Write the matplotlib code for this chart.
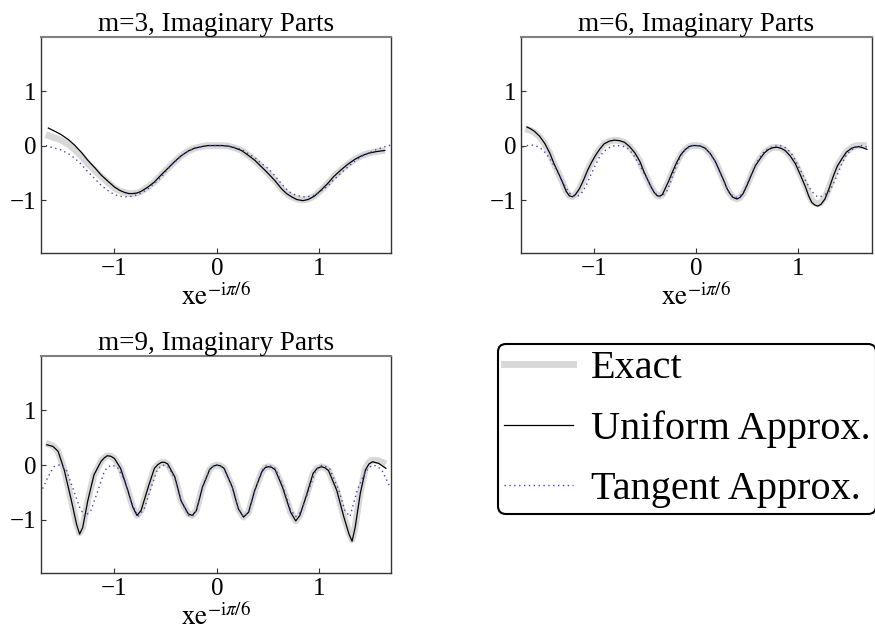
import matplotlib.pyplot as plt
from matplotlib.lines import Line2D

plt.rcParams['font.family'] = ['Liberation Serif', 'DejaVu Serif']
plt.rcParams['mathtext.fontset'] = 'stix'

# m=3
x3_unif = [-1.645, -1.58, -1.52, -1.45, -1.39, -1.32, -1.26, -1.19, -1.13, -1.06, -1.00, -0.95, -0.90, -0.86,
           -0.82, -0.78, -0.74, -0.68, -0.61, -0.55, -0.48, -0.41, -0.35, -0.28, -0.22, -0.15, -0.09, -0.04, 0.0,
           0.05, 0.11, 0.17, 0.24, 0.30, 0.37, 0.43, 0.50, 0.57, 0.63, 0.68, 0.73, 0.78, 0.84, 0.89, 0.95, 1.01,
           1.08, 1.14, 1.21, 1.28, 1.35, 1.41, 1.48, 1.56, 1.64]
y3_unif = [0.32, 0.26, 0.20, 0.11, 0.01, -0.13, -0.27, -0.41, -0.54, -0.66, -0.76, -0.82, -0.86, -0.88,
           -0.88, -0.87, -0.84, -0.77, -0.67, -0.55, -0.42, -0.29, -0.19, -0.10, -0.05, -0.02, 0.0, 0.0, 0.0,
           0.0, -0.01, -0.04, -0.09, -0.17, -0.27, -0.38, -0.51, -0.65, -0.79, -0.88, -0.94, -0.99, -1.01, -0.99,
           -0.93, -0.83, -0.70, -0.57, -0.45, -0.34, -0.25, -0.19, -0.14, -0.11, -0.09]
x3_exact = [-1.67, -1.58, -1.52, -1.45, -1.39, -1.32, -1.26, -1.19, -1.13, -1.06, -1.00, -0.95, -0.90, -0.86,
            -0.82, -0.78, -0.74, -0.68, -0.61, -0.55, -0.48, -0.41, -0.35, -0.28, -0.22, -0.15, -0.09, -0.04, 0.0,
            0.05, 0.11, 0.17, 0.24, 0.30, 0.37, 0.43, 0.50, 0.57, 0.63, 0.68, 0.73, 0.78, 0.84, 0.89, 0.95, 1.01,
            1.08, 1.14, 1.21, 1.28, 1.35, 1.41, 1.48, 1.56, 1.64]
y3_exact = [0.20, 0.14, 0.10, 0.02, -0.07, -0.20, -0.33, -0.46, -0.57, -0.68, -0.78, -0.83, -0.86, -0.88,
            -0.88, -0.87, -0.84, -0.77, -0.67, -0.55, -0.42, -0.29, -0.19, -0.10, -0.05, -0.02, 0.0, 0.0, 0.0,
            0.0, -0.01, -0.04, -0.09, -0.17, -0.27, -0.38, -0.51, -0.65, -0.79, -0.88, -0.94, -0.98, -1.00, -0.98,
            -0.93, -0.83, -0.70, -0.57, -0.45, -0.34, -0.25, -0.19, -0.14, -0.11, -0.09]
x3_tang = [-1.67, -1.60, -1.52, -1.45, -1.39, -1.32, -1.26, -1.19, -1.13, -1.06, -1.00, -0.95, -0.89, -0.83,
           -0.77, -0.72, -0.67, -0.61, -0.54, -0.48, -0.41, -0.35, -0.28, -0.22, -0.15, -0.09, -0.04, 0.0, 0.05,
           0.11, 0.17, 0.24, 0.30, 0.37, 0.43, 0.50, 0.57, 0.63, 0.68, 0.73, 0.79, 0.86, 0.92, 0.97, 1.02, 1.08,
           1.14, 1.21, 1.28, 1.35, 1.41, 1.48, 1.55, 1.61, 1.70]
y3_tang = [0.0, -0.04, -0.08, -0.15, -0.23, -0.35, -0.48, -0.61, -0.73, -0.83, -0.90, -0.93, -0.94, -0.93,
           -0.90, -0.85, -0.79, -0.69, -0.57, -0.43, -0.30, -0.19, -0.10, -0.05, -0.02, 0.0, 0.0, 0.0, 0.0,
           -0.01, -0.03, -0.07, -0.14, -0.22, -0.32, -0.42, -0.56, -0.70, -0.80, -0.88, -0.92, -0.94, -0.93, -0.90,
           -0.83, -0.75, -0.63, -0.51, -0.39, -0.28, -0.20, -0.14, -0.08, -0.04, 0.01]

# m=6
x6_unif = [-1.654, -1.62, -1.58, -1.53, -1.48, -1.43, -1.39, -1.34, -1.30, -1.27, -1.24, -1.21, -1.18, -1.14,
           -1.10, -1.06, -1.02, -0.98, -0.94, -0.90, -0.85, -0.80, -0.75, -0.70, -0.65, -0.60, -0.55, -0.51, -0.47,
           -0.44, -0.41, -0.38, -0.36, -0.33, -0.31, -0.27, -0.23, -0.19, -0.15, -0.11, -0.07, -0.035, 0.0, 0.045,
           0.09, 0.14, 0.19, 0.23, 0.27, 0.30, 0.33, 0.36, 0.40, 0.43, 0.46, 0.50, 0.54, 0.58, 0.63, 0.67, 0.71,
           0.75, 0.79, 0.83, 0.87, 0.92, 0.97, 1.02, 1.07, 1.10, 1.13, 1.16, 1.19, 1.22, 1.26, 1.30, 1.34, 1.38,
           1.43, 1.47, 1.52, 1.55, 1.59, 1.63, 1.67]
y6_unif = [0.34, 0.31, 0.26, 0.17, 0.04, -0.14, -0.33, -0.53, -0.70, -0.84, -0.92, -0.94, -0.90, -0.79,
           -0.63, -0.45, -0.30, -0.17, -0.06, 0.03, 0.08, 0.10, 0.09, 0.06, -0.02, -0.13, -0.29, -0.48, -0.64,
           -0.76, -0.86, -0.92, -0.93, -0.90, -0.82, -0.66, -0.48, -0.31, -0.17, -0.08, -0.02, 0.0, 0.0, -0.01,
           -0.05, -0.15, -0.30, -0.47, -0.64, -0.78, -0.88, -0.95, -0.98, -0.95, -0.88, -0.72, -0.54, -0.37, -0.23,
           -0.13, -0.07, -0.04, -0.03, -0.05, -0.09, -0.19, -0.33, -0.54, -0.76, -0.92, -1.04, -1.09, -1.11, -1.08,
           -0.98, -0.79, -0.57, -0.38, -0.23, -0.12, -0.05, -0.03, -0.02, -0.04, -0.07]
x6_exact = [-1.67, -1.62, -1.58, -1.53, -1.48, -1.43, -1.39, -1.34, -1.30, -1.27, -1.24, -1.21, -1.18, -1.14,
            -1.10, -1.06, -1.02, -0.98, -0.94, -0.90, -0.85, -0.80, -0.75, -0.70, -0.65, -0.60, -0.55, -0.51, -0.47,
            -0.44, -0.41, -0.38, -0.36, -0.33, -0.31, -0.27, -0.23, -0.19, -0.15, -0.11, -0.07, -0.035, 0.0, 0.045,
            0.09, 0.14, 0.19, 0.23, 0.27, 0.30, 0.33, 0.36, 0.40, 0.43, 0.46, 0.50, 0.54, 0.58, 0.63, 0.67, 0.71,
            0.75, 0.79, 0.83, 0.87, 0.92, 0.97, 1.02, 1.07, 1.10, 1.13, 1.16, 1.19, 1.22, 1.26, 1.30, 1.34, 1.38,
            1.43, 1.47, 1.52, 1.55, 1.59, 1.63, 1.67]
y6_exact = [0.30, 0.28, 0.24, 0.16, 0.03, -0.14, -0.33, -0.53, -0.70, -0.84, -0.92, -0.94, -0.90, -0.79,
            -0.63, -0.45, -0.30, -0.17, -0.06, 0.03, 0.08, 0.10, 0.09, 0.06, -0.02, -0.13, -0.29, -0.48, -0.64,
            -0.76, -0.86, -0.92, -0.93, -0.90, -0.82, -0.66, -0.48, -0.31, -0.17, -0.08, -0.02, 0.0, 0.0, -0.01,
            -0.05, -0.15, -0.30, -0.47, -0.64, -0.78, -0.88, -0.95, -0.98, -0.95, -0.88, -0.72, -0.54, -0.37, -0.23,
            -0.13, -0.07, -0.04, -0.03, -0.05, -0.09, -0.19, -0.33, -0.53, -0.74, -0.89, -1.00, -1.05, -1.07, -1.05,
            -0.96, -0.78, -0.56, -0.37, -0.22, -0.11, -0.04, -0.01, 0.0, 0.0, 0.0]
x6_tang = [-1.70, -1.65, -1.61, -1.58, -1.55, -1.52, -1.47, -1.42, -1.37, -1.32, -1.28, -1.24, -1.20, -1.17,
           -1.14, -1.11, -1.07, -1.03, -0.99, -0.95, -0.91, -0.86, -0.82, -0.77, -0.72, -0.67, -0.62, -0.57, -0.52,
           -0.47, -0.44, -0.41, -0.38, -0.35, -0.32, -0.28, -0.25, -0.22, -0.18, -0.15, -0.11, -0.07, -0.035, 0.0,
           0.045, 0.09, 0.14, 0.19, 0.23, 0.27, 0.30, 0.33, 0.37, 0.40, 0.43, 0.46, 0.50, 0.54, 0.58, 0.63, 0.67,
           0.72, 0.77, 0.82, 0.86, 0.90, 0.94, 0.97, 1.02, 1.07, 1.11, 1.15, 1.18, 1.21, 1.25, 1.30, 1.34, 1.38,
           1.42, 1.46, 1.51, 1.56, 1.62, 1.68]
y6_tang = [-0.03, 0.0, 0.01, 0.0, -0.02, -0.05, -0.14, -0.27, -0.43, -0.60, -0.75, -0.87, -0.93, -0.94,
           -0.91, -0.85, -0.71, -0.54, -0.38, -0.23, -0.12, -0.05, -0.01, 0.0, -0.01, -0.05, -0.15, -0.30, -0.47,
           -0.64, -0.76, -0.85, -0.91, -0.94, -0.90, -0.82, -0.67, -0.50, -0.32, -0.19, -0.09, -0.03, 0.0, 0.0,
           -0.01, -0.05, -0.15, -0.30, -0.47, -0.64, -0.78, -0.88, -0.94, -0.95, -0.92, -0.86, -0.70, -0.52, -0.35,
           -0.20, -0.10, -0.04, -0.01, 0.0, -0.02, -0.08, -0.17, -0.27, -0.45, -0.64, -0.78, -0.88, -0.93, -0.94,
           -0.91, -0.85, -0.71, -0.54, -0.36, -0.20, -0.09, -0.03, 0.0, -0.03]

# m=9
x9_unif = [-1.66, -1.60, -1.55, -1.49, -1.42, -1.37, -1.34, -1.31, -1.26, -1.20, -1.13, -1.10, -1.07, -1.035,
           -1.00, -0.94, -0.87, -0.82, -0.78, -0.74, -0.67, -0.61, -0.575, -0.54, -0.51, -0.48, -0.41, -0.35,
           -0.28, -0.24, -0.20, -0.14, -0.07, -0.035, 0.0, 0.035, 0.07, 0.15, 0.21, 0.26, 0.31, 0.37, 0.44, 0.47,
           0.50, 0.535, 0.57, 0.64, 0.72, 0.77, 0.81, 0.88, 0.94, 0.98, 1.02, 1.055, 1.09, 1.17, 1.24, 1.29,
           1.32, 1.35, 1.40, 1.45, 1.485, 1.52, 1.58, 1.65]
y9_unif = [0.37, 0.34, 0.25, -0.09, -0.65, -1.08, -1.26, -1.14, -0.65, -0.18, 0.07, 0.13, 0.17, 0.16,
           0.12, -0.06, -0.46, -0.77, -0.92, -0.83, -0.40, -0.06, 0.01, 0.05, 0.05, 0.02, -0.22, -0.65,
           -0.89, -0.92, -0.83, -0.40, -0.08, -0.02, 0.0, -0.015, -0.06, -0.40, -0.80, -0.95, -0.86, -0.46, -0.12,
           -0.05, -0.03, -0.04, -0.09, -0.40, -0.86, -1.02, -0.92, -0.52, -0.15, -0.06, -0.03, -0.05, -0.10,
           -0.46, -0.95, -1.26, -1.39, -1.14, -0.52, -0.09, 0.02, 0.06, 0.03, -0.06]
x9_exact = [-1.67, -1.60, -1.55, -1.49, -1.42, -1.37, -1.34, -1.31, -1.26, -1.20, -1.13, -1.10, -1.07, -1.035,
            -1.00, -0.94, -0.87, -0.82, -0.78, -0.74, -0.67, -0.61, -0.575, -0.54, -0.51, -0.48, -0.41, -0.35,
            -0.28, -0.24, -0.20, -0.14, -0.07, -0.035, 0.0, 0.035, 0.07, 0.15, 0.21, 0.26, 0.31, 0.37, 0.44, 0.47,
            0.50, 0.535, 0.57, 0.64, 0.72, 0.77, 0.81, 0.88, 0.94, 0.98, 1.02, 1.055, 1.09, 1.17, 1.24, 1.29,
            1.32, 1.35, 1.40, 1.45, 1.485, 1.52, 1.58, 1.65]
y9_exact = [0.40, 0.35, 0.25, -0.09, -0.65, -1.08, -1.24, -1.14, -0.65, -0.18, 0.07, 0.13, 0.17, 0.16,
            0.12, -0.06, -0.46, -0.77, -0.92, -0.83, -0.40, -0.06, 0.01, 0.05, 0.05, 0.02, -0.22, -0.65,
            -0.89, -0.92, -0.83, -0.40, -0.08, -0.02, 0.0, -0.015, -0.06, -0.40, -0.80, -0.95, -0.86, -0.46, -0.12,
            -0.05, -0.03, -0.04, -0.09, -0.40, -0.86, -1.02, -0.92, -0.52, -0.15, -0.06, -0.03, -0.05, -0.10,
            -0.46, -0.95, -1.24, -1.36, -1.12, -0.50, -0.06, 0.05, 0.09, 0.08, 0.02]
x9_tang = [-1.70, -1.65, -1.59, -1.54, -1.505, -1.47, -1.41, -1.34, -1.29, -1.23, -1.16, -1.10, -1.065, -1.03,
           -0.97, -0.90, -0.84, -0.77, -0.71, -0.64, -0.58, -0.53, -0.47, -0.41, -0.35, -0.28, -0.24, -0.20,
           -0.14, -0.07, -0.035, 0.0, 0.035, 0.07, 0.15, 0.21, 0.26, 0.31, 0.37, 0.44, 0.47, 0.50, 0.57, 0.64,
           0.72, 0.77, 0.82, 0.89, 0.96, 0.995, 1.03, 1.10, 1.19, 1.25, 1.30, 1.37, 1.45, 1.49, 1.53, 1.57,
           1.61, 1.69]
y9_tang = [-0.43, -0.22, -0.03, 0.0, -0.03, -0.09, -0.40, -0.77, -0.94, -0.83, -0.46, -0.12, -0.04, 0.0,
           -0.04, -0.28, -0.65, -0.94, -0.80, -0.40, -0.08, 0.0, -0.04, -0.25, -0.65, -0.92, -0.94, -0.83,
           -0.40, -0.08, -0.02, 0.0, -0.015, -0.06, -0.40, -0.80, -0.94, -0.86, -0.46, -0.10, -0.03, 0.0, -0.06,
           -0.36, -0.82, -0.94, -0.86, -0.50, -0.12, -0.04, 0.0, -0.06, -0.46, -0.83, -0.94, -0.46, -0.12, -0.04,
           0.0, -0.03, -0.09, -0.40]

exact_color = '#d8d8d8'
tang_color = '#4545b5'

fig = plt.figure(figsize=(8.75, 6.39), dpi=100)

panels = [
    (3, [41/875, 1-253/639, 350/875, 216/639], (-1.717, 1.70),
     x3_exact, y3_exact, x3_unif, y3_unif, x3_tang, y3_tang),
    (6, [521/875, 1-253/639, 351/875, 216/639], (-1.712, 1.72),
     x6_exact, y6_exact, x6_unif, y6_unif, x6_tang, y6_tang),
    (9, [41/875, 1-573/639, 350/875, 217/639], (-1.717, 1.70),
     x9_exact, y9_exact, x9_unif, y9_unif, x9_tang, y9_tang),
]

for m, rect, xlim, xe, ye, xu, yu, xt, yt in panels:
    ax = fig.add_axes(rect)
    ax.plot(xe, ye, color=exact_color, lw=4.8, solid_capstyle='butt', solid_joinstyle='round')
    ax.plot(xu, yu, color='black', lw=0.9)
    ax.plot(xt, yt, color=tang_color, lw=1.0, ls=(0, (1, 2.5)))
    ax.set_xlim(*xlim)
    ax.set_ylim(-1.97, 1.99)
    ax.set_xticks([-1, 0, 1])
    ax.set_yticks([-1, 0, 1])
    ax.tick_params(direction='in', length=3.5, width=0.8, labelsize=18, colors='#333333', labelcolor='black')
    ax.tick_params(axis='x', pad=3.5)
    ax.tick_params(axis='y', pad=3.5)
    for s in ['left', 'right', 'bottom']:
        ax.spines[s].set_color('#333333')
        ax.spines[s].set_linewidth(1.0)
    ax.spines['top'].set_color('#7f7f7f')
    ax.spines['top'].set_linewidth(1.5)
    ax.set_title(f'm={m}, Imaginary Parts', fontsize=19.5, pad=4)
    ax.set_xlabel(r'$\mathrm{xe}^{-\mathrm{i}\pi/6}$', fontsize=19.5, labelpad=2.5)

handles = [Line2D([], [], color=exact_color, lw=5),
           Line2D([], [], color='black', lw=0.9),
           Line2D([], [], color=tang_color, lw=1.0, ls=(0, (1, 2.5)))]
labels = ['Exact', 'Uniform Approx.', 'Tangent Approx.']
leg = fig.legend(handles, labels, loc='upper left', bbox_to_anchor=(498/875, 1-344/639),
                 fontsize=29, frameon=True, fancybox=True, edgecolor='black', framealpha=1,
                 handlelength=1.7, handletextpad=0.45, labelspacing=0.57, borderpad=0.15,
                 borderaxespad=0)
leg.get_frame().set_linewidth(1.5)

fig.savefig('out.png', dpi=100)
